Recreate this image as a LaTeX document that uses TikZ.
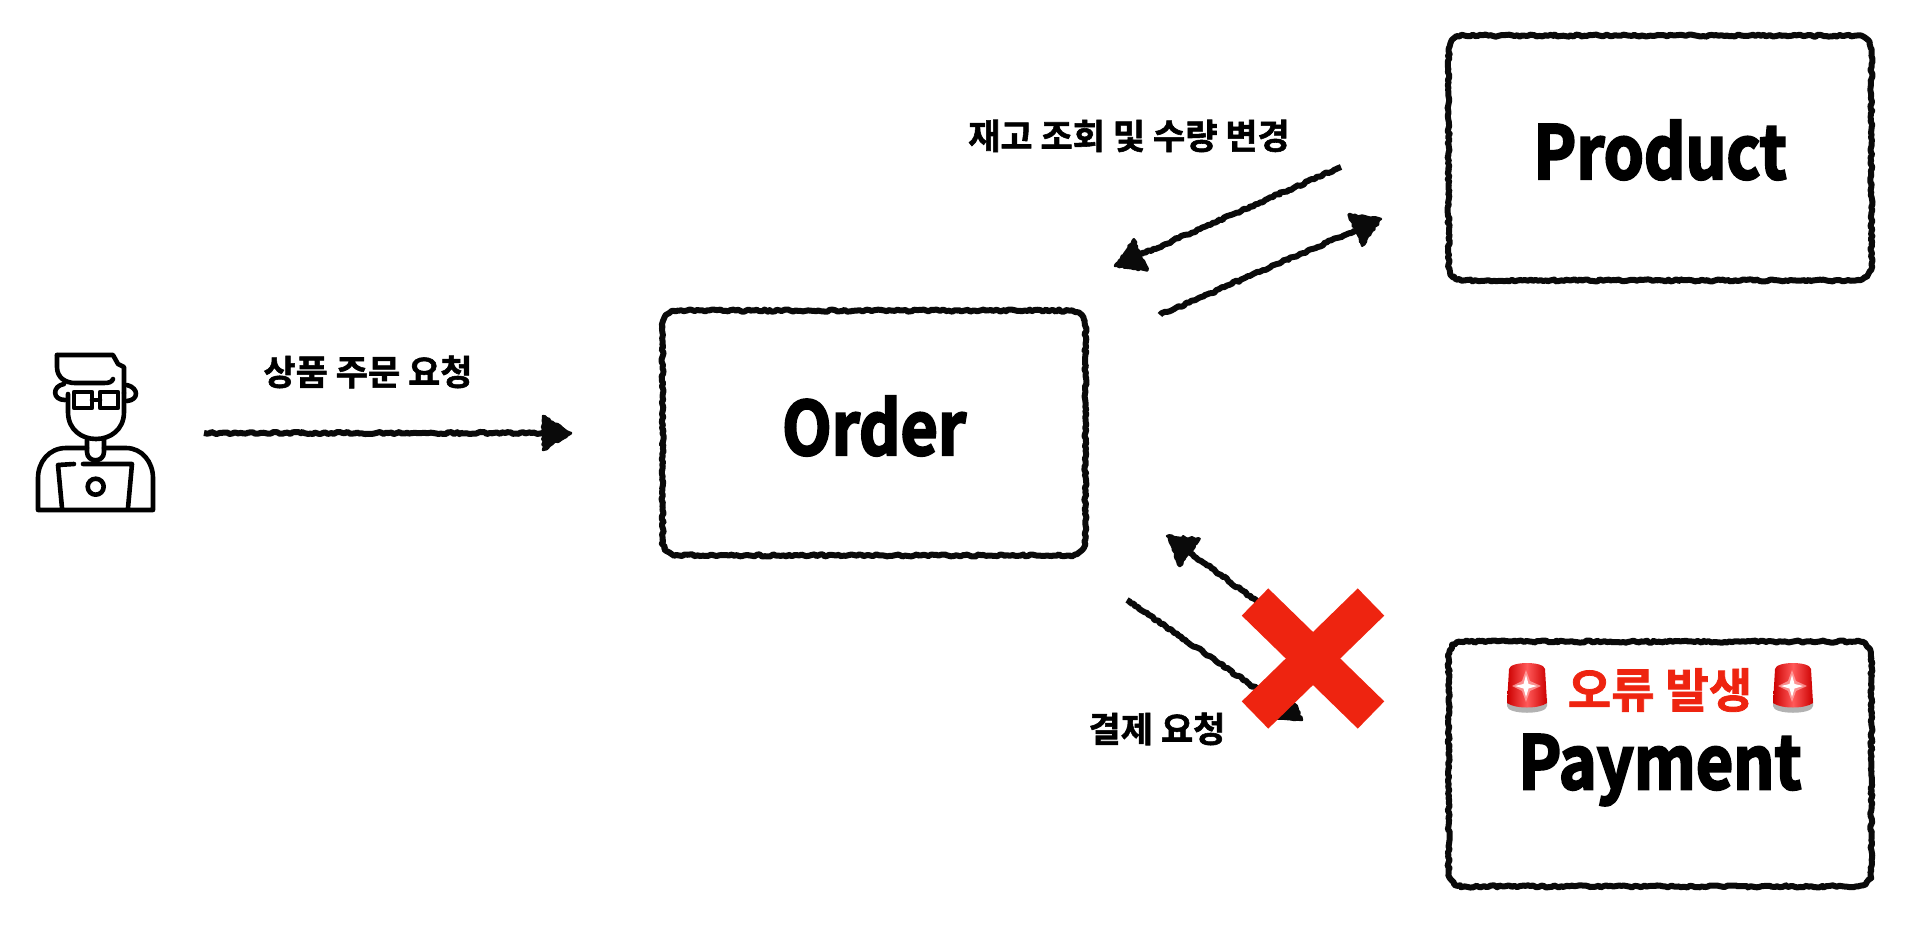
\documentclass[tikz,border=0pt]{standalone}
\usepackage{fontspec}
\setmainfont{Noto Sans CJK KR}
\newfontfamily\kofont{Noto Sans CJK KR Bold}[FakeBold=1.6]
\newfontfamily\enfont{Noto Sans CJK KR Bold}[FakeBold=3,FakeStretch=0.87]
\usetikzlibrary{decorations.pathmorphing,calc}
\definecolor{xred}{HTML}{EE2410}
\definecolor{ink}{HTML}{0A0A0A}
\tikzset{
  rough/.style={decorate,decoration={random steps,segment length=1.3pt,amplitude=0.55pt}},
  sysbox/.style={minimum width=211pt,minimum height=122pt,inner sep=0pt},
  outline/.style={draw=ink,line width=3pt,line join=round,rough},
  flow/.style={draw=ink,line width=3pt,line join=round,rough},
  headtip/.style={draw=ink,fill=ink,line width=1.2pt,line join=round,rough},
  icon/.style={draw=black,line width=2.3pt,line cap=round,line join=round},
  lab/.style={font=\kofont\fontsize{17.5}{20}\selectfont,text=black,inner sep=0pt},
  sysname/.style={font=\enfont\fontsize{37}{40}\selectfont,text=black,inner sep=0pt},
  alarm/.style={font=\kofont\fontsize{23.6}{26}\selectfont,text=xred,inner sep=0pt},
  cross/.style={draw=xred,line width=19pt}
}
\newcommand{\sketchbox}[1]{%
  \draw[outline]
    ([xshift=8pt]#1.north west) -- ([xshift=-8pt]#1.north east)
    .. controls ([xshift=-3pt]#1.north east) and ([yshift=-3pt]#1.north east) .. ([yshift=-8pt]#1.north east)
    -- ([yshift=8pt]#1.south east)
    .. controls ([yshift=3pt]#1.south east) and ([xshift=-3pt]#1.south east) .. ([xshift=-8pt]#1.south east)
    -- ([xshift=8pt]#1.south west)
    .. controls ([xshift=3pt]#1.south west) and ([yshift=3pt]#1.south west) .. ([yshift=8pt]#1.south west)
    -- ([yshift=-8pt]#1.north west)
    .. controls ([yshift=-3pt]#1.north west) and ([xshift=3pt]#1.north west) .. ([xshift=8pt]#1.north west);}
\newcommand{\sirenlamp}[1]{%
  \begin{scope}[shift={(#1)}]
    \fill[gray!60] (-20,10) -- (20,10) -- (20,18) .. controls (20,27) and (-20,27) .. (-20,18) -- cycle;
    \shade[left color=red!80!black,right color=red!80!black,middle color=red!65!white] (-20,15) -- (-18,-19) .. controls (-17,-27) and (17,-27) .. (18,-19) -- (20,15) .. controls (12,21) and (-12,21) .. (-20,15) -- cycle;
    \fill[red!30!white,opacity=0.7] (-1,-18) -- (3,-7) -- (14,-2) -- (3,3) -- (-1,14) -- (-5,3) -- (-15,-2) -- (-5,-7) -- cycle;
    \fill[white] (-1,-13) -- (1.5,-4) -- (10,-2) -- (1.5,0.5) -- (-1,9) -- (-3.5,0.5) -- (-12,-2) -- (-3.5,-4) -- cycle;
  \end{scope}}
\pgfmathsetseed{7}
\begin{document}
\begin{tikzpicture}[x=0.5pt,y=-0.5pt]
\useasboundingbox (0,0) rectangle (1906,926);
% person icon
\begin{scope}[icon]
  \draw (57,355) -- (113,355) -- (118,364) -- (124,367) -- (124,393);
  \draw (57,355) -- (57,367) .. controls (57,378) and (66,383) .. (75,383) -- (104,383) .. controls (109,383) and (112,382) .. (113,379);
  \draw (64,384) .. controls (52,386) and (52,400) .. (65,400);
  \draw (127,385) .. controls (139,388) and (139,400) .. (127,401);
  \draw (68,394) -- (68,412) .. controls (68,448) and (124,448) .. (124,412) -- (124,393);
  \draw (74,392) rectangle (92,408);
  \draw (100,392) rectangle (118,408);
  \draw (92,400) -- (100,400);
  \draw (87,440) -- (87,452) .. controls (87,463) and (104,463) .. (104,452) -- (104,440);
  \draw (87,448) -- (66,448) .. controls (49,448) and (38,462) .. (38,478) -- (38,510) -- (153,510) -- (153,478) .. controls (153,462) and (142,448) .. (126,448) -- (104,448);
  \draw (62,508) -- (58,465) -- (74,464);
  \draw (83,464) -- (132,464) -- (128,508);
  \draw (95.7,486.7) circle[radius=8];
\end{scope}
% boxes
\node[sysbox] (order) at (874,433) {};
\node[sysbox] (product) at (1660,158) {};
\node[sysbox] (payment) at (1660,764) {};
\sketchbox{order}
\sketchbox{product}
\sketchbox{payment}
% box texts
\node[sysname] (ordername) at (874,426) {Order};
\node[sysname] (productname) at (1660,150) {Product};
\node[sysname] (paymentname) at (1660,770) {Payment};
\node[alarm] (alarmtext) at (1660,690) {오류 발생};
\sirenlamp{1527,688}
\sirenlamp{1793,688}
% arrow ends
\coordinate (u1) at (204,433);
\coordinate (u2) at (571,433);
\coordinate (p1) at (1341,167);
\coordinate (p2) at (1115,266);
\coordinate (p3) at (1160,315);
\coordinate (p4) at (1381,219);
\coordinate (q1) at (1258,602);
\coordinate (q2) at (1167,536);
\coordinate (q3) at (1127,600);
\coordinate (q4) at (1302,720);
% connectors
\foreach \a/\b in {u1/u2,p1/p2,p3/p4,q1/q2,q3/q4}{
  \coordinate (hb) at ($(\b)!14pt!(\a)$);
  \draw[flow] (\a) -- (hb);
  \draw[headtip] (\b) -- ($(hb)!8.5pt!90:(\b)$) -- ($(hb)!8.5pt!-90:(\b)$) -- cycle;
}
% labels
\node[lab] (l1) at (368,372) {상품 주문 요청};
\node[lab] (l2) at (1129,136) {재고 조회 및 수량 변경};
\node[lab] (l3) at (1157,729) {결제 요청};
% cross
\coordinate (x1) at (1255,602);
\coordinate (x2) at (1371,715);
\coordinate (x3) at (1371,602);
\coordinate (x4) at (1255,715);
\draw[cross] (x1) -- (x2);
\draw[cross] (x3) -- (x4);
\end{tikzpicture}
\end{document}
